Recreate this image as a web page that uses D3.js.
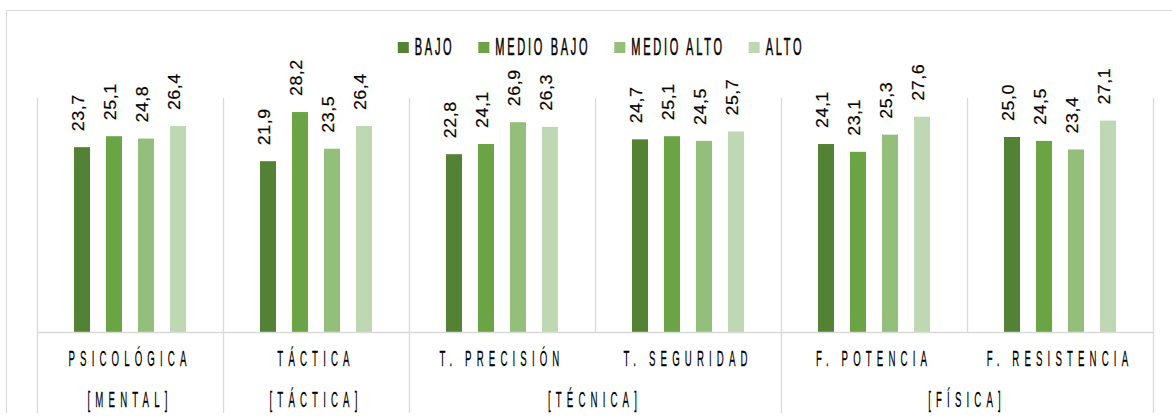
<!DOCTYPE html>
<html><head><meta charset="utf-8">
<script src="https://cdn.jsdelivr.net/npm/d3@7"></script>
<style>
html,body{margin:0;padding:0;background:#fff;}
svg{display:block;}
text{font-family:"Liberation Sans",Arial,sans-serif;fill:#000;}
.soft{opacity:0.995;}
</style></head>
<body>
<svg id="chart" width="1172" height="418"></svg>
<script>
const categories = ["PSICOLÓGICA","TÁCTICA","T. PRECISIÓN","T. SEGURIDAD","F. POTENCIA","F. RESISTENCIA"];
const groups = ["[MENTAL]","[TÁCTICA]","[TÉCNICA]","[FÍSICA]"];
const groupOfCategory = [0,1,2,2,3,3];
const seriesNames = ["BAJO","MEDIO BAJO","MEDIO ALTO","ALTO"];
const bajo      = [23.7,21.9,22.8,24.7,24.1,25.0];
const medioBajo = [25.1,28.2,24.1,25.1,23.1,24.5];
const medioAlto = [24.8,23.5,26.9,24.5,25.3,23.4];
const alto      = [26.4,26.4,26.3,25.7,27.6,27.1];
const colors = ["#548235","#6BA444","#94BF7A","#BFD8B4"];

const seriesValues = [bajo, medioBajo, medioAlto, alto];
const svg = d3.select("#chart");
const W = 1172, H = 418;
const pLeft = 37, pRight = 1153, pTop = 98, pBottom = 332, axisBottom = 413;

// chart border
svg.append("line").attr("x1",6.5).attr("x2",W).attr("y1",10.5).attr("y2",10.5).attr("stroke","#d9d9d9");
svg.append("line").attr("x1",6.5).attr("x2",6.5).attr("y1",10.5).attr("y2",axisBottom).attr("stroke","#d9d9d9");

const x0 = d3.scaleBand().domain(categories).range([pLeft,pRight]).padding(0);
const x1 = d3.scaleBand().domain(seriesNames).range([0,128]).paddingInner(0.5).paddingOuter(0.25);
const innerOff = (x0.bandwidth()-128)/2;
const y = d3.scaleLinear().domain([0,30]).range([pBottom,pTop]);

// vertical gridlines at category boundaries
const bounds = categories.map(c=>x0(c)).concat([pRight]);
svg.append("g").selectAll("line").data(bounds).join("line")
  .attr("x1",d=>Math.round(d)+0.5).attr("x2",d=>Math.round(d)+0.5)
  .attr("y1",pTop).attr("y2",pBottom).attr("stroke","#d9d9d9").attr("stroke-width",1.3);

// bars
const data = [];
categories.forEach((c,i)=>seriesNames.forEach((s,j)=>data.push({c,s,j,v:seriesValues[j][i]})));
svg.append("g").selectAll("rect").data(data).join("rect")
  .attr("x",d=>x0(d.c)+innerOff+x1(d.s))
  .attr("width",x1.bandwidth())
  .attr("y",d=>y(d.v)).attr("height",d=>y(0)-y(d.v))
  .attr("fill",d=>colors[d.j]);

// data labels
const fmt = v => d3.format(".1f")(v).replace(".",",");
svg.append("g").attr("class","soft").selectAll("text").data(data).join("text")
  .attr("transform",d=>`translate(${x0(d.c)+innerOff+x1(d.s)+x1.bandwidth()/2+2},${y(d.v)-16}) rotate(-90) scale(1.05,1)`)
  .attr("text-anchor","start")
  .style("font-size","17px").style("letter-spacing","0.5px")
  .attr("stroke","#000").attr("stroke-width",0.2)
  .text(d=>fmt(d.v));

// axis line
svg.append("line").attr("x1",pLeft).attr("x2",pRight).attr("y1",pBottom+0.5).attr("y2",pBottom+0.5).attr("stroke","#d9d9d9").attr("stroke-width",1.3);

// group dividers in label area
const groupStarts = [];
groupOfCategory.forEach((g,i)=>{ if(i===0||groupOfCategory[i-1]!==g) groupStarts.push(x0(categories[i])); });
groupStarts.push(pRight);
svg.append("g").selectAll("line").data(groupStarts).join("line")
  .attr("x1",d=>Math.round(d)+0.5).attr("x2",d=>Math.round(d)+0.5)
  .attr("y1",pBottom).attr("y2",axisBottom).attr("stroke","#d9d9d9").attr("stroke-width",1.3);

// condensed text helper
function condText(sel, size, sx, ls, sw){
  sel.style("font-size",size+"px").style("letter-spacing",ls+"px")
     .attr("stroke","#000").attr("stroke-width",sw)
     .attr("transform",`scale(${sx},1)`);
}
const SX = 0.45;
// category labels
svg.append("g").attr("class","soft").selectAll("g").data(categories).join("g")
  .attr("transform",c=>`translate(${x0(c)+x0.bandwidth()/2},366)`)
  .append("text").attr("text-anchor","middle").text(c=>c)
  .call(condText,21.5,SX,11.4,0.25);

// group labels
const groupCenters = groups.map((g,gi)=>{
  const cats = categories.filter((c,i)=>groupOfCategory[i]===gi);
  return (x0(cats[0]) + x0(cats[cats.length-1]) + x0.bandwidth())/2;
});
svg.append("g").attr("class","soft").selectAll("g").data(groups).join("g")
  .attr("transform",(g,i)=>`translate(${groupCenters[i]},407)`)
  .append("text").attr("text-anchor","middle").text(g=>g)
  .call(condText,21.5,SX,11.4,0.25);

// legend
const leg = svg.append("g").attr("class","soft");
const items = leg.selectAll("g").data(seriesNames).join("g");
items.append("rect").attr("width",11).attr("height",11).attr("y",-13).attr("fill",(d,i)=>colors[i]);
items.append("g").attr("transform","translate(17,0)").append("text").text(d=>d).call(condText,24.5,SX,6,0.6);
let xpos = 0;
items.each(function(){
  const t = d3.select(this).select("text").node();
  const w = t.getComputedTextLength()*SX;
  this.__x = xpos;
  xpos += 17 + w + 24;
});
const totalW = xpos - 24;
const startX = 601 - totalW/2;
items.attr("transform",function(){return `translate(${startX+this.__x},55)`;});
</script>
</body></html>
